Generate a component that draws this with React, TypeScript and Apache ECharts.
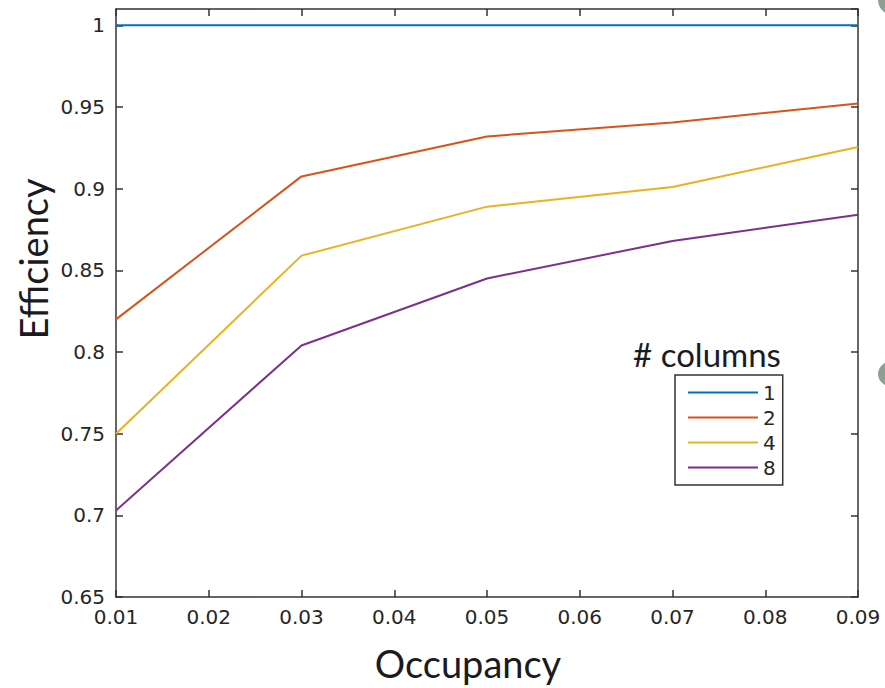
import React, { useEffect, useRef } from "react";
import * as echarts from "echarts";

const occupancy = [0.01, 0.03, 0.05, 0.07, 0.09];
const seriesNames = ["1", "2", "4", "8"];
const eff1 = [1, 1, 1, 1, 1];
const eff2 = [0.82, 0.9075, 0.932, 0.9405, 0.9522];
const eff4 = [0.75, 0.859, 0.889, 0.901, 0.9255];
const eff8 = [0.703, 0.804, 0.845, 0.868, 0.884];
const colors = ["#0072BD", "#D95319", "#EDB120", "#7E2F8E"];

const AXIS_COLOR = "#333333";
const TEXT_COLOR = "#262626";

export default function App() {
  const ref = useRef<HTMLDivElement>(null);
  useEffect(() => {
    if (!ref.current) return;
    const chart = echarts.init(ref.current, null, { renderer: "svg" });
    const all = [eff1, eff2, eff4, eff8];
    const fmt = (v: number) => String(Math.round(v * 100) / 100);
    const axisLine = { show: true, lineStyle: { color: AXIS_COLOR, width: 1.5 } };
    const axisTick = { show: true, inside: true, length: 7, lineStyle: { color: AXIS_COLOR, width: 1.5 } };
    const labelStyle = { fontFamily: "DejaVu Sans", fontSize: 20, color: TEXT_COLOR };
    chart.setOption({
      animation: false,
      backgroundColor: "#ffffff",
      grid: { left: 116, right: 27, top: 9, bottom: 91, containLabel: false },
      xAxis: [
        {
          type: "value", min: 0.01, max: 0.09, interval: 0.01, position: "bottom",
          axisLine, axisTick, splitLine: { show: false },
          axisLabel: { ...labelStyle, margin: 10, formatter: fmt },
        },
        {
          type: "value", min: 0.01, max: 0.09, interval: 0.01, position: "top",
          axisLine, axisTick, splitLine: { show: false }, axisLabel: { show: false },
        },
      ],
      yAxis: [
        {
          type: "value", min: 0.65, max: 1.01, interval: 0.05, position: "left",
          axisLine, axisTick, splitLine: { show: false },
          axisLabel: { ...labelStyle, margin: 11, formatter: fmt },
        },
        {
          type: "value", min: 0.65, max: 1.01, interval: 0.05, position: "right",
          axisLine, axisTick, splitLine: { show: false }, axisLabel: { show: false },
        },
      ],
      legend: {
        orient: "vertical",
        left: 675,
        top: 375,
        padding: [5, 7, 5, 13],
        itemWidth: 70,
        itemHeight: 14,
        itemGap: 0,
        icon: "path://M0 0H70V2H0Z",
        borderColor: AXIS_COLOR,
        borderWidth: 1.5,
        backgroundColor: "#ffffff",
        textStyle: { fontFamily: "DejaVu Sans", fontSize: 20, color: TEXT_COLOR, lineHeight: 25 },
        data: seriesNames,
      },
      series: seriesNames.map((name, i) => ({
        name,
        type: "line",
        symbol: "none",
        data: occupancy.map((x, j) => [x, all[i][j]]),
        lineStyle: { color: colors[i], width: 2 },
        itemStyle: { color: colors[i] },
      })),
      graphic: [
        {
          type: "text", x: 33, y: 259, rotation: Math.PI / 2,
          style: { text: "Efficiency", fontFamily: "Lato", fontSize: 38, fill: "#1a1a22", align: "center", verticalAlign: "middle" },
        },
        {
          type: "text", x: 468, y: 663,
          style: { text: "Occupancy", fontFamily: "Lato", fontSize: 38, fill: "#1a1a22", align: "center", verticalAlign: "middle" },
        },
        {
          type: "text", x: 707, y: 354,
          style: { text: "# columns", fontFamily: "Lato", fontSize: 33, fill: "#1a1a22", align: "center", verticalAlign: "middle" },
        },
        { type: "circle", shape: { cx: 893, cy: 0, r: 15 }, style: { fill: "#909f94" } },
        { type: "circle", shape: { cx: 890, cy: 374, r: 12 }, style: { fill: "#909f94" } },
      ],
    });
    return () => chart.dispose();
  }, []);
  return (
    <div
      ref={ref}
      style={{ position: "fixed", left: 0, top: 0, width: 885, height: 688 }}
    />
  );
}
